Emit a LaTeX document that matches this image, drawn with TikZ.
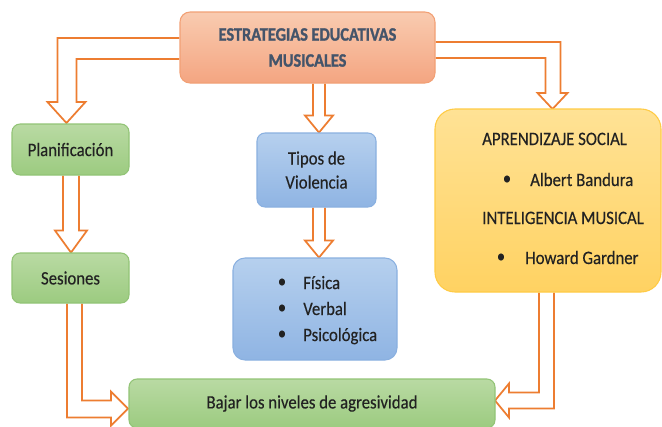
\documentclass[tikz,border=0pt]{standalone}
\usepackage{fontspec}
\setmainfont{Carlito}[FakeStretch=0.885, FakeBold=0.25]
\newfontfamily\titlefont{Carlito}[FakeStretch=0.86, FakeBold=1.2]
\usetikzlibrary{calc,backgrounds}
\definecolor{arr}{HTML}{ED7D31}
\definecolor{txt}{HTML}{222222}
\definecolor{ttl}{HTML}{44546A}
\definecolor{oTop}{HTML}{F9CBB0}
\definecolor{oBot}{HTML}{F4A581}
\definecolor{oBrd}{HTML}{F2A075}
\definecolor{gTop}{HTML}{B9DAA3}
\definecolor{gBot}{HTML}{9CCB80}
\definecolor{gBrd}{HTML}{92C476}
\definecolor{bTop}{HTML}{B6D0EE}
\definecolor{bBot}{HTML}{8FB4E3}
\definecolor{bBrd}{HTML}{8AB0E0}
\definecolor{yTop}{HTML}{FFE295}
\definecolor{yBot}{HTML}{FFD262}
\definecolor{yBrd}{HTML}{FFCB45}
\tikzset{
  box/.style={draw, line width=0.8pt, rounded corners=6pt, align=center, inner sep=0pt, text=txt},
  orangebox/.style={box, top color=oTop, bottom color=oBot, draw=oBrd, rounded corners=7.5pt},
  greenbox/.style={box, top color=gTop, bottom color=gBot, draw=gBrd},
  bluebox/.style={box, top color=bTop, bottom color=bBot, draw=bBrd},
  yellowbox/.style={box, top color=yTop, bottom color=yBot, draw=yBrd, rounded corners=15pt},
  barrow/.style={draw=arr, line width=1.3pt, fill=white, line join=miter},
  itemtext/.style={anchor=base west, inner sep=0pt, text=txt},
  bul/.style={inner sep=0pt, text=txt}
}
\begin{document}
\begin{tikzpicture}[x=0.75pt,y=-0.75pt,font=\fontsize{14.2pt}{18pt}\selectfont]
\useasboundingbox (0,0) rectangle (662,426);

% boxes
\node[orangebox, minimum width=191.25pt, minimum height=53.25pt, font=\titlefont\fontsize{14.2pt}{19.5pt}\selectfont\bfseries, text=ttl] (top) at (307.5,47.5) {ESTRATEGIAS EDUCATIVAS\\MUSICALES};
\node[greenbox, minimum width=87.75pt, minimum height=38.25pt] (plan) at (70.5,149.5) {Planificación};
\node[greenbox, minimum width=87.75pt, minimum height=37.5pt] (ses) at (70.5,278) {Sesiones};
\node[bluebox, minimum width=89.25pt, minimum height=55.5pt] (tipos) at (316.5,170) {Tipos de\\Violencia};
\node[bluebox, minimum width=123pt, minimum height=76.5pt, rounded corners=9pt] (fis) at (315,309) {};
\node[yellowbox, minimum width=169.5pt, minimum height=137.25pt] (right) at (548,200.5) {};
\node[greenbox, minimum width=274.5pt, minimum height=36.75pt] (bajar) at (312,403.5) {Bajar los niveles de agresividad};

% list in blue box
\node[bul] (b1) at (282,283) {•};
\node[itemtext] (fisica) at (303,289) {Física};
\node[bul] (b2) at (282,309) {•};
\node[itemtext] (verbal) at (303,315) {Verbal};
\node[bul] (b3) at (282,335) {•};
\node[itemtext] (psico) at (303,341) {Psicológica};

% text in yellow box
\node[itemtext] (aprend) at (482,145) {APRENDIZAJE SOCIAL};
\node[bul] (b4) at (507,180) {•};
\node[itemtext] (bandura) at (530,186) {Albert Bandura};
\node[itemtext] (intel) at (482,224) {INTELIGENCIA MUSICAL};
\node[bul] (b5) at (501,258) {•};
\node[itemtext] (gardner) at (525,264) {Howard Gardner};

\begin{scope}[on background layer]
\fill[white] (0,0) rectangle (662,426);
% top -> planificacion
\draw[barrow] ($(top.west)+(0,-9.5)$) -- ++(-122,0) -- ++(0,64) -- ++(-10,0) -- ++(19,21) -- ++(19,-21) -- ++(-9,0) -- ++(0,-43) -- ++(103,0);
% top -> tipos
\draw[barrow] ($(top.south)+(5.5,0)$) -- ++(0,32) -- ++(-8,0) -- ++(14,17) -- ++(14,-17) -- ++(-8,0) -- ++(0,-32);
% top -> right
\draw[barrow] ($(top.east)+(0,-5.5)$) -- ++(125,0) -- ++(0,51) -- ++(7,0) -- ++(-15,16) -- ++(-15,-16) -- ++(8,0) -- ++(0,-35) -- ++(-110,0);
% plan -> sesiones
\draw[barrow] ($(plan.south)+(-7.5,0)$) -- ++(0,55) -- ++(-8,0) -- ++(16,22) -- ++(16,-22) -- ++(-8,0) -- ++(0,-55);
% tipos -> fisica
\draw[barrow] ($(tipos.south)+(-3.5,0)$) -- ++(0,33) -- ++(-8,0) -- ++(14,17) -- ++(14,-17) -- ++(-8,0) -- ++(0,-33);
% sesiones -> bajar
\draw[barrow] ($(ses.south)+(-3.5,0)$) -- ++(0,114) -- ++(44,0) -- ++(0,8) -- ++(17,-17) -- ++(-17,-17) -- ++(0,9) -- ++(-29,0) -- ++(0,-97);
% right -> bajar
\draw[barrow] ($(right.south)+(-9,0)$) -- ++(0,100) -- ++(-30,0) -- ++(0,-9) -- ++(-14,17) -- ++(14,17) -- ++(0,-9) -- ++(45,0) -- ++(0,-116);
\end{scope}
\end{tikzpicture}
\end{document}
